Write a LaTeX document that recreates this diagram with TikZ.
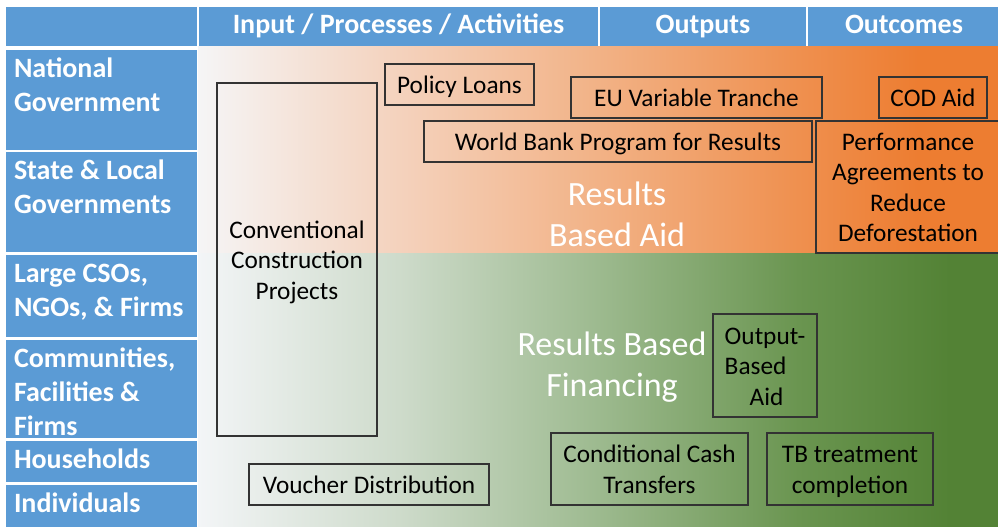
\documentclass[tikz,border=0pt]{standalone}
\usepackage{fontspec}
\setmainfont{Carlito}
\definecolor{hdrblue}{HTML}{5B9BD5}
\definecolor{boxline}{HTML}{333333}
\definecolor{og0}{HTML}{F5F5F6}
\definecolor{og1}{HTML}{F4D2BD}
\definecolor{og2}{HTML}{F2B286}
\definecolor{og3}{HTML}{EF904F}
\definecolor{og4}{HTML}{ED7D31}
\definecolor{gg0}{HTML}{F3F5F7}
\definecolor{gg1}{HTML}{CEDBCB}
\definecolor{gg2}{HTML}{9DBA8F}
\definecolor{gg3}{HTML}{6A9550}
\definecolor{gg4}{HTML}{538235}
\pgfdeclarehorizontalshading{orangegrad}{100bp}{color(0bp)=(og0); color(25bp)=(og0); color(37.5bp)=(og1); color(50bp)=(og2); color(62.5bp)=(og3); color(70bp)=(og4); color(100bp)=(og4)}
\pgfdeclarehorizontalshading{greengrad}{100bp}{color(0bp)=(gg0); color(25bp)=(gg0); color(37.5bp)=(gg1); color(50bp)=(gg2); color(62.5bp)=(gg3); color(72bp)=(gg4); color(100bp)=(gg4)}
\newcommand{\lowstrut}{\setbox\strutbox\hbox{\vrule height.8\baselineskip depth.2\baselineskip width0pt}}
\newcommand{\hdrstack}[1]{\begin{tabular}[t]{@{}c@{}}#1\end{tabular}}
\newcommand{\mystack}[2][c]{\lowstrut\begin{tabular}[t]{@{}#1@{}}#2\end{tabular}}
\newcommand{\cellbox}[2]{\lowstrut\parbox[t][#1][t]{191pt}{\raggedright\leftskip=8pt\strut#2}}
\begin{document}
\begin{tikzpicture}[x=1pt,y=-1pt,
  hcell/.style={fill=hdrblue, draw=none, text=white, inner sep=0pt, outer sep=0pt,
    font=\fontsize{28}{34}\selectfont\bfseries, minimum height=39pt},
  lcell/.style={fill=hdrblue, draw=none, text=white, inner sep=0pt, outer sep=0pt,
    anchor=north west, font=\fontsize{28}{34}\selectfont\bfseries},
  rbox/.style={draw=boxline, line width=1.3pt, inner sep=0pt, text=black,
    font=\fontsize{25.3}{30.5}\selectfont},
  bigwhite/.style={text=white, inner sep=0pt, anchor=base,
    font=\fontsize{34}{41}\selectfont}]
\useasboundingbox (0,0) rectangle (998,527);
\fill[white] (0,0) rectangle (998,527);
% background gradients
\shade[shading=orangegrad] (198,47) rectangle (998,253);
\shade[shading=greengrad] (198,253) rectangle (998,527);
% header row
\node[hcell, minimum width=191pt] (hblank) at (101.5,26.5) {};
\node[hcell, minimum width=399pt] (hinput) at (398.5,26.5) {\hdrstack{Input / Processes / Activities}};
\node[hcell, minimum width=206pt] (houtputs) at (703,26.5) {\hdrstack{Outputs}};
\node[hcell, minimum width=192pt] (houtcomes) at (904,26.5) {\hdrstack{Outcomes}};
% left column
\node[lcell] (national) at (6,50) {\cellbox{100pt}{National\\Government}};
\node[lcell] (state) at (6,152) {\cellbox{100pt}{State \& Local\\Governments}};
\node[lcell] (large) at (6,255) {\cellbox{82pt}{Large CSOs,\\NGOs, \& Firms}};
\node[lcell] (communities) at (6,340) {\cellbox{98pt}{Communities,\\Facilities \&\\Firms}};
\node[lcell] (households) at (6,441) {\cellbox{41pt}{Households}};
\node[lcell] (individuals) at (6,485) {\cellbox{42pt}{Individuals}};
% boxes
\node[rbox, minimum width=160pt, minimum height=353pt] (conv) at (297,259.5) {\mystack{Conventional\\Construction\\Projects}};
\node[rbox, minimum width=149pt, minimum height=41pt] (policy) at (459.5,84.5) {\mystack{Policy Loans}};
\node[rbox, minimum width=251pt, minimum height=41pt] (eu) at (696.5,97.5) {\mystack{EU Variable Tranche}};
\node[rbox, minimum width=108pt, minimum height=41pt] (cod) at (933,97.5) {\mystack{COD Aid}};
\node[rbox, minimum width=388pt, minimum height=41pt] (wb) at (618,141.5) {\mystack{World Bank Program for Results}};
\node[rbox, minimum width=184pt, minimum height=132pt] (perf) at (908,187) {\mystack{Performance\\Agreements to\\Reduce\\Deforestation}};
\node[rbox, minimum width=104pt, minimum height=103pt] (oba) at (765,365.5) {\mystack[l]{Output-\\Based\\\hspace*{25pt}Aid}};
\node[rbox, minimum width=240pt, minimum height=41pt] (voucher) at (369,484.5) {\mystack{Voucher Distribution}};
\node[rbox, minimum width=197pt, minimum height=72pt] (cct) at (649.5,469) {\mystack{Conditional Cash\\Transfers}};
\node[rbox, minimum width=166pt, minimum height=72pt] (tb) at (850,469) {\mystack{TB treatment\\completion}};
% big labels
\node[bigwhite] (rba) at (617,205) {\hdrstack{Results\\Based Aid}};
\node[bigwhite] (rbf) at (612,355) {\hdrstack{Results Based\\Financing}};
\end{tikzpicture}
\end{document}
